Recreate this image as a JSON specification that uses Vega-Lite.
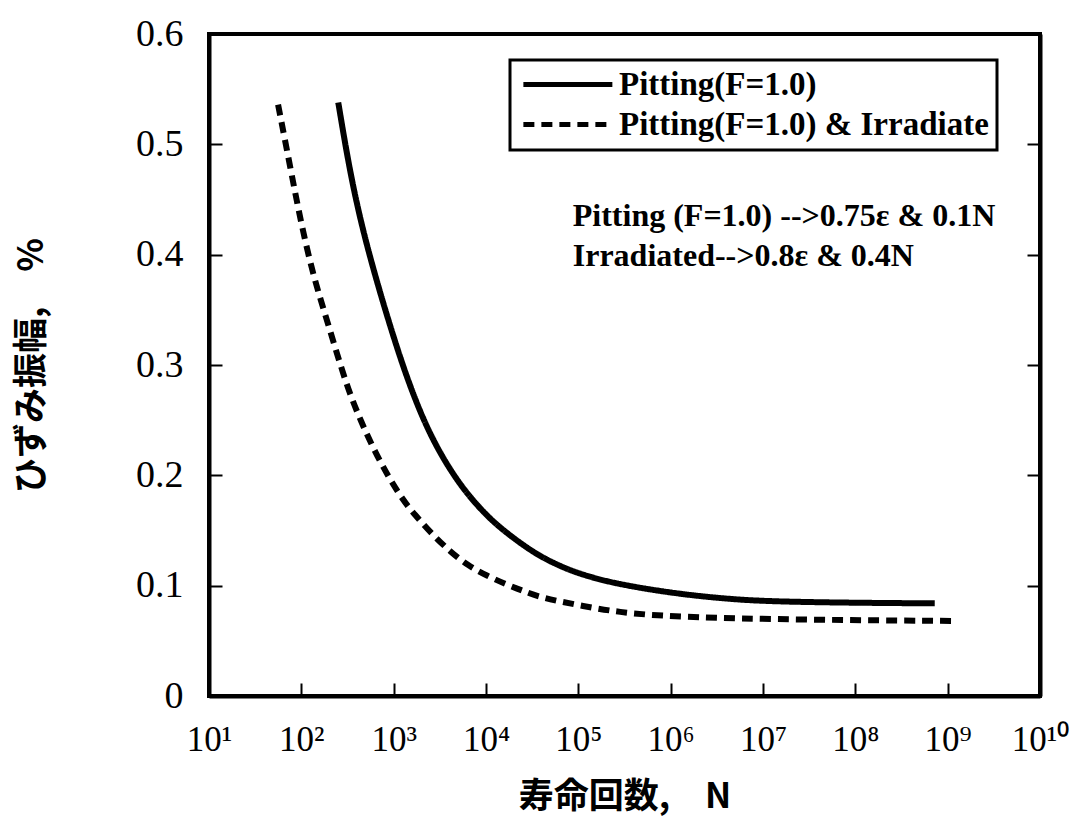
{
  "$schema": "https://vega.github.io/schema/vega-lite/v6.json",
  "width": 831,
  "height": 662,
  "autosize": "none",
  "padding": {"left": 209, "top": 34, "right": 36, "bottom": 121},
  "background": "white",
  "config": {
    "view": {"stroke": "black", "strokeWidth": 4},
    "axis": {"grid": false, "domainColor": "black", "domainWidth": 4, "labelPadding": 39,
      "labelFont": "Liberation Serif", "labelColor": "black", "labelFontSize": 38,
      "titleFont": "Noto Sans CJK JP", "titleFontWeight": "bold", "titleColor": "black", "titleFontSize": 35}
  },
  "layer": [
    {
      "data": {"values": [
        {"N": 251, "strain": 0.538, "series": "Pitting(F=1.0)"},
        {"N": 337, "strain": 0.474, "series": "Pitting(F=1.0)"},
        {"N": 466, "strain": 0.421, "series": "Pitting(F=1.0)"},
        {"N": 681, "strain": 0.371, "series": "Pitting(F=1.0)"},
        {"N": 991, "strain": 0.326, "series": "Pitting(F=1.0)"},
        {"N": 1384, "strain": 0.289, "series": "Pitting(F=1.0)"},
        {"N": 2094, "strain": 0.250, "series": "Pitting(F=1.0)"},
        {"N": 3311, "strain": 0.217, "series": "Pitting(F=1.0)"},
        {"N": 5689, "strain": 0.187, "series": "Pitting(F=1.0)"},
        {"N": 10000, "strain": 0.164, "series": "Pitting(F=1.0)"},
        {"N": 15417, "strain": 0.150, "series": "Pitting(F=1.0)"},
        {"N": 32359, "strain": 0.130, "series": "Pitting(F=1.0)"},
        {"N": 58345, "strain": 0.119, "series": "Pitting(F=1.0)"},
        {"N": 100000, "strain": 0.111, "series": "Pitting(F=1.0)"},
        {"N": 239883, "strain": 0.102, "series": "Pitting(F=1.0)"},
        {"N": 1071519, "strain": 0.093, "series": "Pitting(F=1.0)"},
        {"N": 3981072, "strain": 0.088, "series": "Pitting(F=1.0)"},
        {"N": 12882496, "strain": 0.0855, "series": "Pitting(F=1.0)"},
        {"N": 154881662, "strain": 0.0843, "series": "Pitting(F=1.0)"},
        {"N": 724435960, "strain": 0.084, "series": "Pitting(F=1.0)"},
        {"N": 56, "strain": 0.536, "series": "Pitting(F=1.0) & Irradiate"},
        {"N": 76, "strain": 0.479, "series": "Pitting(F=1.0) & Irradiate"},
        {"N": 98, "strain": 0.431, "series": "Pitting(F=1.0) & Irradiate"},
        {"N": 135, "strain": 0.380, "series": "Pitting(F=1.0) & Irradiate"},
        {"N": 204, "strain": 0.332, "series": "Pitting(F=1.0) & Irradiate"},
        {"N": 309, "strain": 0.281, "series": "Pitting(F=1.0) & Irradiate"},
        {"N": 451, "strain": 0.247, "series": "Pitting(F=1.0) & Irradiate"},
        {"N": 700, "strain": 0.213, "series": "Pitting(F=1.0) & Irradiate"},
        {"N": 1172, "strain": 0.181, "series": "Pitting(F=1.0) & Irradiate"},
        {"N": 1702, "strain": 0.164, "series": "Pitting(F=1.0) & Irradiate"},
        {"N": 2582, "strain": 0.147, "series": "Pitting(F=1.0) & Irradiate"},
        {"N": 4074, "strain": 0.131, "series": "Pitting(F=1.0) & Irradiate"},
        {"N": 6427, "strain": 0.118, "series": "Pitting(F=1.0) & Irradiate"},
        {"N": 10186, "strain": 0.109, "series": "Pitting(F=1.0) & Irradiate"},
        {"N": 16749, "strain": 0.101, "series": "Pitting(F=1.0) & Irradiate"},
        {"N": 25704, "strain": 0.095, "series": "Pitting(F=1.0) & Irradiate"},
        {"N": 40084, "strain": 0.089, "series": "Pitting(F=1.0) & Irradiate"},
        {"N": 104713, "strain": 0.082, "series": "Pitting(F=1.0) & Irradiate"},
        {"N": 263027, "strain": 0.076, "series": "Pitting(F=1.0) & Irradiate"},
        {"N": 1071519, "strain": 0.0715, "series": "Pitting(F=1.0) & Irradiate"},
        {"N": 30199517, "strain": 0.069, "series": "Pitting(F=1.0) & Irradiate"},
        {"N": 1258925412, "strain": 0.068, "series": "Pitting(F=1.0) & Irradiate"}
      ]},
      "mark": {"type": "line", "color": "black", "strokeWidth": 6, "interpolate": "basis"},
      "encoding": {
        "x": {"field": "N", "type": "quantitative",
          "scale": {"type": "log", "domain": [10, 10000000000], "nice": false},
          "axis": {"orient": "bottom", "title": "寿命回数,　N", "titlePadding": 22,
            "tickSize": -13, "tickWidth": 2, "tickColor": "black",
            "values": [10, 100, 1000, 10000, 100000, 1000000, 10000000, 100000000, 1000000000, 10000000000],
            "labelExpr": "['10⁰','10¹','10²','10³','10⁴','10⁵','10⁶','10⁷','10⁸','10⁹','10¹⁰'][round(log(datum.value)/LN10)]",
            "labelFontSize": 35, "labelFlush": false, "labelOverlap": false}},
        "y": {"field": "strain", "type": "quantitative",
          "scale": {"domain": [0, 0.6], "nice": false, "zero": true},
          "axis": {"orient": "left", "title": "ひずみ振幅,　%", "titlePadding": 86,
            "tickSize": -13, "tickWidth": 2, "tickColor": "black",
            "values": [0, 0.1, 0.2, 0.3, 0.4, 0.5, 0.6], "format": ".1~f"}},
        "strokeDash": {"field": "series", "type": "nominal",
          "scale": {"domain": ["Pitting(F=1.0)", "Pitting(F=1.0) & Irradiate"], "range": [[1, 0], [11, 7]]},
          "legend": {"orient": "none", "legendX": 301, "legendY": 26, "title": null,
            "symbolType": "M-1,0H7", "symbolSize": 495, "symbolStrokeWidth": 5, "symbolStrokeColor": "black",
            "labelFont": "Liberation Serif", "labelFontWeight": "bold", "labelFontSize": 33, "labelColor": "black",
            "labelLimit": 0, "labelOffset": 68, "rowPadding": 6, "padding": 8,
            "strokeColor": "black", "fillColor": "white",
            "encode": {"legend": {"update": {"strokeWidth": {"value": 3}}}}}}
      }
    },
    {
      "data": {"values": [{}]},
      "mark": {"type": "text", "align": "left", "baseline": "middle", "font": "Liberation Serif", "fontWeight": "bold", "fontSize": 32, "color": "black"},
      "encoding": {
        "x": {"datum": 87000, "type": "quantitative"},
        "y": {"datum": 0.435, "type": "quantitative", "axis": {"orient": "right", "labels": false, "title": null,
          "tickSize": -13, "tickWidth": 2, "tickColor": "black",
          "values": [0, 0.1, 0.2, 0.3, 0.4, 0.5, 0.6]}},
        "text": {"value": "Pitting (F=1.0) -->0.75ε & 0.1N"}
      }
    },
    {
      "data": {"values": [{}]},
      "mark": {"type": "text", "align": "left", "baseline": "middle", "font": "Liberation Serif", "fontWeight": "bold", "fontSize": 32, "color": "black"},
      "encoding": {
        "x": {"datum": 87000, "type": "quantitative"},
        "y": {"datum": 0.399, "type": "quantitative", "axis": null},
        "text": {"value": "Irradiated-->0.8ε & 0.4N"}
      }
    }
  ],
  "resolve": {"axis": {"y": "independent"}}
}
